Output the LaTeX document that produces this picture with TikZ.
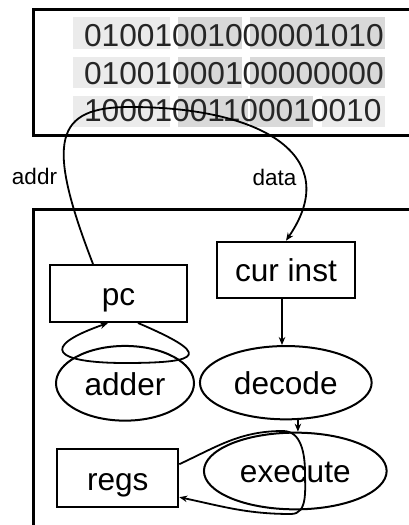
\documentclass[tikz,border=0pt]{standalone}
\usepackage{fontspec}
\setmainfont{Liberation Sans}
\usepackage{tikz}
\usetikzlibrary{arrows.meta,shapes.geometric}

\begin{document}
\begin{tikzpicture}[x=1pt,y=1pt,>={Stealth[length=8pt,width=6.5pt]},line width=2.2pt,
  unit/.style={rectangle,draw=black,line width=2pt,inner sep=0pt,font=\fontsize{31.6}{36}\selectfont,text height=30pt,text depth=6.3pt},
  stage/.style={ellipse,draw=black,line width=2pt,inner sep=0pt,font=\fontsize{31.6}{36}\selectfont,text height=30pt,text depth=6.3pt},
  bits/.style={anchor=base west,inner sep=0pt,font=\fontsize{31.7}{36}\selectfont,text=black!85},
  tag/.style={anchor=base,inner sep=0pt,font=\fontsize{22.5}{26}\selectfont},
  wire/.style={->,draw=black,line width=1.8pt}]
\useasboundingbox (0,0) rectangle (409,525);
\clip (0,0) rectangle (409,525);
% instruction memory
\fill[black!8] (73,476) rectangle (170,508);
\fill[black!15] (178,476) rectangle (242,508);
\fill[black!15] (250,476) rectangle (385,508);
\fill[black!8] (73,437) rectangle (170,468);
\fill[black!15] (178,437) rectangle (242,468);
\fill[black!15] (250,437) rectangle (385,468);
\fill[black!8] (73,398) rectangle (170,429);
\fill[black!15] (178,398) rectangle (248,429);
\fill[black!15] (250,398) rectangle (313,429);
\fill[black!8] (322,398) rectangle (385,429);
\node[bits] (row1) at (83,478) {01001001000001010};
\node[bits] (row2) at (83,440) {01001000100000000};
\node[bits] (row3) at (83,403) {10001001100010010};
\draw (33.5,389.5) rectangle (430,515.5);
% processor
\draw (33.5,315.5) rectangle (430,-10);
\node[unit,minimum width=137pt,minimum height=57pt] (pc) at (118.5,231.5) {pc};
\node[unit,minimum width=138pt,minimum height=56.6pt] (cur) at (286,255) {cur inst};
\node[unit,minimum width=121pt,minimum height=58.3pt] (regs) at (117.8,46.8) {regs};
\node[stage,minimum width=138pt,minimum height=74.7pt] (adder) at (125,141.7) {adder};
\node[stage,minimum width=171.7pt,minimum height=73.3pt] (dec) at (285.8,142.3) {decode};
\node[stage,minimum width=182.7pt,minimum height=76.7pt] (exe) at (295.3,54) {execute};
\node[tag] (addrlbl) at (34.5,340) {addr};
\node[tag] (datalbl) at (274.5,339) {data};
% fetch
\coordinate (fetch) at (130,418);
\draw[line width=1.8pt] ([xshift=-25.5pt]pc.north) .. controls (45,385) and (55,418) .. (fetch);
\draw[wire] (fetch) .. controls (260,418) and (345,370) .. (cur.north);
\draw[wire] ([xshift=-4pt]cur.south) -- ([xshift=-4pt]cur.south |- dec.north);
\draw[wire] (dec.-72) -- (dec.-72 |- exe.north);
% loops
\draw[wire] ([xshift=19.5pt]pc.south) .. controls (210.5,171) and (205,162) .. (125,162) .. controls (55,162) and (37.5,177.4) .. ([xshift=-10.5pt]pc.south);
\draw[wire] ([yshift=14pt]regs.east) to[out=25,in=180] (283,94) to[out=0,in=90] (305,52) to[out=-90,in=0] (291,11) to[out=180,in=-12] ([yshift=-19pt]regs.east);
\end{tikzpicture}
\end{document}
